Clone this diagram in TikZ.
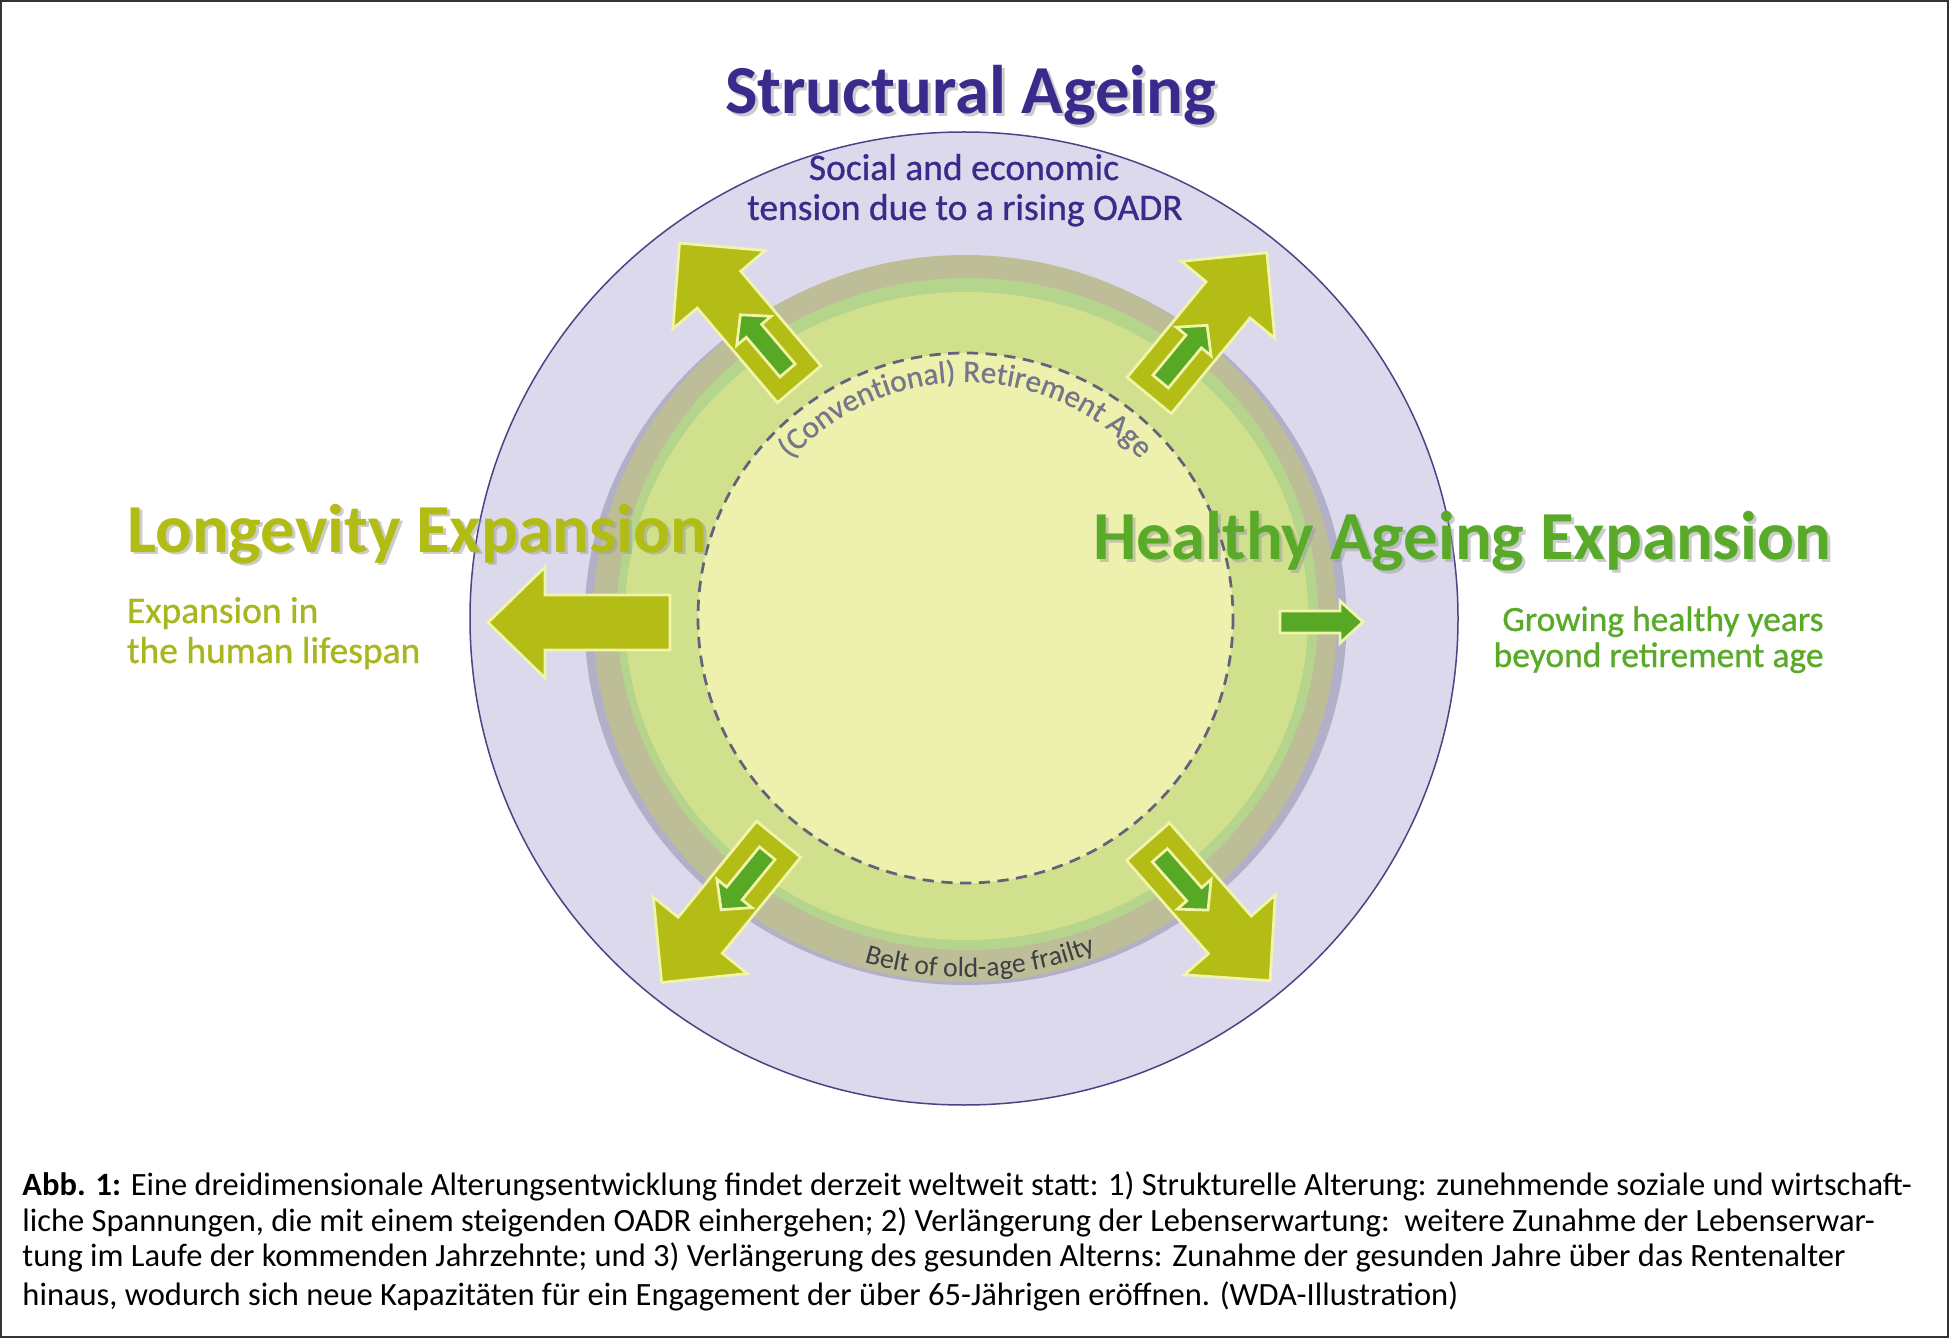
\documentclass[tikz,border=0pt]{standalone}
\usepackage{fontspec}
\setmainfont{Carlito}
\newfontfamily\subfam{Carlito}[FakeBold=0.8]
\usetikzlibrary{decorations.text}
\definecolor{lav}{HTML}{DDD9EC}
\definecolor{lavline}{HTML}{4B4385}
\definecolor{lavdark}{HTML}{B2AFC8}
\definecolor{belt}{HTML}{BDBE98}
\definecolor{ringgreen}{HTML}{B5D48C}
\definecolor{ringyg}{HTML}{D1E08D}
\definecolor{core}{HTML}{EEF1AE}
\definecolor{dashc}{HTML}{62627A}
\definecolor{indigo}{HTML}{3A2A8C}
\definecolor{olivetitle}{HTML}{B1BC14}
\definecolor{olivetxt}{HTML}{A9B61E}
\definecolor{grn}{HTML}{5AAA2A}
\definecolor{arrolive}{HTML}{B3BD15}
\definecolor{arrgreen}{HTML}{57A824}
\definecolor{arrline}{HTML}{F1F5AA}
\definecolor{arctext}{HTML}{76768A}
\definecolor{belttext}{HTML}{3F3F45}
\definecolor{shadowc}{HTML}{9A9A9A}
\newcommand\dualarrow[3]{%
  \begin{scope}[shift={(#1,#2)}, rotate=#3]
    \filldraw[bigarrow] (0,-28.5) -- (124,-28.5) -- (124,-60.5) -- (185,0) -- (124,60.5) -- (124,28.5) -- (0,28.5) -- cycle;
    \filldraw[smallarrow] (18,-10) -- (70,-10) -- (70,-22.5) -- (91,0) -- (70,22.5) -- (70,10) -- (18,10) -- cycle;
  \end{scope}}
\begin{document}
\begin{tikzpicture}[x=0.4pt, y=-0.4pt,
  bigarrow/.style={fill=arrolive, draw=arrline, line width=1.1pt, line join=miter},
  smallarrow/.style={fill=arrgreen, draw=arrline, line width=1.1pt, line join=miter},
  titlefont/.style={font=\fontsize{27.5}{33}\selectfont\bfseries, inner sep=0pt},
  subfont/.style={font=\subfam\fontsize{15}{18}\selectfont, inner sep=0pt},
  subfontr/.style={font=\subfam\fontsize{14.2}{17}\selectfont, inner sep=0pt},
  capfont/.style={font=\fontsize{13}{15}\selectfont, inner sep=0pt, anchor=base west},
  shadowtext/.style={text=shadowc, opacity=0.5}]
\useasboundingbox (0,0) rectangle (1949,1338);
\fill[white] (0,0) rectangle (1949,1338);
% rings
\filldraw[fill=lav, draw=lavline, line width=0.6pt] (964,618.5) ellipse [x radius=494, y radius=486.5];
\fill[lavdark] (965.5,621) ellipse [x radius=381, y radius=364];
\fill[belt] (965,618.5) ellipse [x radius=372, y radius=363.5];
\fill[ringgreen] (967.5,614) ellipse [x radius=350.5, y radius=336];
\fill[ringyg] (966.5,616) ellipse [x radius=341.5, y radius=324];
\filldraw[fill=core, draw=dashc, line width=1.1pt, dash pattern=on 4.5pt off 3pt] (965.5,618) ellipse [x radius=267.5, y radius=265];
% arc texts
\path[decorate, decoration={text along path, text align=center,
  text={|\subfam\fontsize{12.5}{14}\selectfont\color{arctext}|(Conventional) Retirement Age}}]
  (965.5,618) ++(-150:236) arc[start angle=-150, end angle=-30, radius=236];
\path[decorate, decoration={text along path, text align=center,
  text={|\fontsize{11.1}{13}\selectfont\color{belttext}|Belt of old-age frailty}}]
  (966,619) ++(117.6:358) arc[start angle=117.6, end angle=57.6, radius=358];
% titles
\node[titlefont, shadowtext, anchor=base] (tsas) at (973.5,117) {Structural Ageing};
\node[titlefont, text=indigo, anchor=base] (tsa) at (970.5,114) {Structural Ageing};
\node[subfont, text=indigo, anchor=base] (sa1) at (964,180) {Social and economic};
\node[subfont, text=indigo, anchor=base] (sa2) at (965,220) {tension due to a rising OADR};
\node[titlefont, shadowtext, anchor=base west] (tles) at (129.5,555) {Longevity Expansion};
\node[titlefont, text=olivetitle, anchor=base west] (tle) at (126.5,552) {Longevity Expansion};
\node[subfont, text=olivetxt, anchor=base west] (le1) at (126.5,623) {Expansion in};
\node[subfont, text=olivetxt, anchor=base west] (le2) at (126.5,663) {the human lifespan};
\node[titlefont, shadowtext, anchor=base west] (thas) at (1096,563) {Healthy Ageing Expansion};
\node[titlefont, text=grn, anchor=base west] (tha) at (1093,560) {Healthy Ageing Expansion};
\node[subfontr, text=grn, anchor=base east] (ha1) at (1824,631) {Growing healthy years};
\node[subfontr, text=grn, anchor=base east] (ha2) at (1824,667) {beyond retirement age};
% arrows
\dualarrow{799.2}{384.2}{130.3}
\dualarrow{1149.2}{395.5}{50.5}
\dualarrow{778.6}{839.2}{230.8}
\dualarrow{1148}{841.7}{-48.7}
\begin{scope}[shift={(670,622.5)}, rotate=180]
  \filldraw[bigarrow] (0,-27.5) -- (125,-27.5) -- (125,-55.5) -- (182,0) -- (125,55.5) -- (125,27.5) -- (0,27.5) -- cycle;
\end{scope}
\begin{scope}[shift={(1280,622)}]
  \filldraw[smallarrow] (0,-11) -- (60,-11) -- (60,-21) -- (83,0) -- (60,21) -- (60,11) -- (0,11) -- cycle;
\end{scope}
% caption
\node[capfont] (c1) at (22,1195) {\textbf{Abb. 1:} Eine dreidimensionale Alterungsentwicklung findet derzeit weltweit statt: 1) Strukturelle Alterung: zunehmende soziale und wirtschaft-};
\node[capfont] (c2) at (22,1231.7) {liche Spannungen, die mit einem steigenden OADR einhergehen; 2) Verlängerung der Lebenserwartung:\ \ weitere Zunahme der Lebenserwar-};
\node[capfont] (c3) at (22,1266.7) {tung im Laufe der kommenden Jahrzehnte; und 3) Verlängerung des gesunden Alterns: Zunahme der gesunden Jahre über das Rentenalter};
\node[capfont] (c4) at (22,1305) {hinaus, wodurch sich neue Kapazitäten für ein Engagement der über 65-Jährigen eröffnen. (WDA-Illustration)};
% frame
\draw[black!80, line width=0.8pt] (1,1) rectangle (1948,1337);
\end{tikzpicture}
\end{document}
